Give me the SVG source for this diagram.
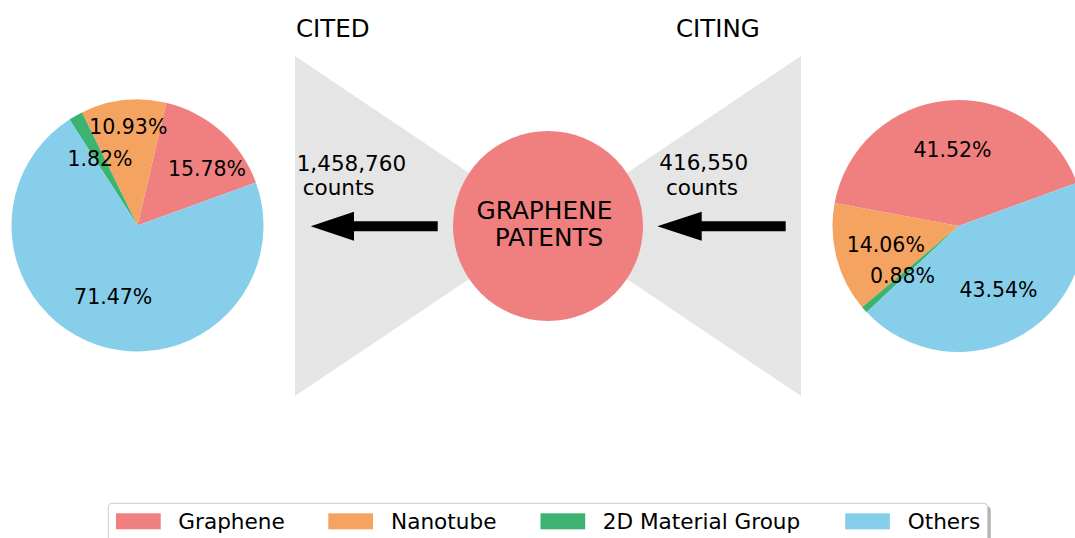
<svg xmlns="http://www.w3.org/2000/svg" width="1075" height="538" viewBox="0 0 1075 538">
<style>
text{font-family:"DejaVu Sans","Liberation Sans",sans-serif;fill:#000}
.pl{font-size:20.5px;text-anchor:middle}
.cnt{font-size:21.5px}
.ttl{font-size:24.5px}
.lg{font-size:21.6px}
.gr{fill:#F08080}.nt{fill:#F4A460}.md{fill:#3CB371}.ot{fill:#87CEEB}
.fan{fill:#e5e5e5}
.arr{fill:#000}
</style>
<rect width="1075" height="538" fill="#fff"/>
<g id="fans">
<polygon class="fan" points="295,56 295,396 548,226"/>
<polygon class="fan" points="801,56 801,396 548,226"/>
</g>
<g id="titles">
<text class="ttl" x="296" y="37.3">CITED</text>
<text class="ttl" x="676" y="37.3">CITING</text>
</g>
<g id="connectors">
<polygon class="arr" points="310.7,226.2 354,211.7 354,221.2 437.7,221.2 437.7,231.2 354,231.2 354,240.7"/>
<polygon class="arr" points="657.3,226.2 701.7,211.7 701.7,221.2 785.7,221.2 785.7,231.2 701.7,231.2 701.7,240.7"/>
</g>
<g id="cited-count">
<text class="cnt" x="296.7" y="170.7">1,458,760</text>
<text class="cnt" x="302.7" y="195">counts</text>
</g>
<g id="citing-count">
<text class="cnt" x="659.3" y="169.5">416,550</text>
<text class="cnt" x="666" y="194.5">counts</text>
</g>
<g id="graphene-patents">
<circle class="gr" cx="548" cy="226" r="95"/>
<text x="544.4" y="219.1" style="font-size:24.8px;text-anchor:middle">GRAPHENE</text>
<text x="549" y="246.4" style="font-size:24.8px;text-anchor:middle">PATENTS</text>
</g>
<g id="cited-pie">
<path class="gr" d="M137.5,225.5 L255.90,182.41 A126,126 0 0 0 166.25,102.83 Z"/>
<path class="nt" d="M137.5,225.5 L166.25,102.83 A126,126 0 0 0 81.96,112.40 Z"/>
<path class="md" d="M137.5,225.5 L81.96,112.40 A126,126 0 0 0 69.42,119.48 Z"/>
<path class="ot" d="M137.5,225.5 L69.42,119.48 A126,126 0 1 0 255.90,182.41 Z"/>
<text class="pl" x="128.3" y="134.3">10.93%</text>
<text class="pl" x="100" y="166">1.82%</text>
<text class="pl" x="207" y="175.7">15.78%</text>
<text class="pl" x="113.2" y="304">71.47%</text>
</g>
<g id="citing-pie">
<path class="gr" d="M958.5,226 L1076.90,182.91 A126,126 0 0 0 834.62,202.98 Z"/>
<path class="nt" d="M958.5,226 L834.62,202.98 A126,126 0 0 0 862.10,307.14 Z"/>
<path class="md" d="M958.5,226 L862.10,307.14 A126,126 0 0 0 866.74,312.35 Z"/>
<path class="ot" d="M958.5,226 L866.74,312.35 A126,126 0 0 0 1076.90,182.91 Z"/>
<text class="pl" x="952.5" y="157">41.52%</text>
<text class="pl" x="885.8" y="252.3">14.06%</text>
<text class="pl" x="902.5" y="282.7">0.88%</text>
<text class="pl" x="998.5" y="296.7">43.54%</text>
</g>
<g id="legend">
<rect x="111.3" y="506.3" width="879.4" height="50" rx="4" fill="#b0b0b0"/>
<rect x="108.3" y="503.3" width="879.4" height="50" rx="4" fill="#fff" stroke="#cccccc" stroke-width="1"/>
<rect class="gr" x="116" y="513.3" width="44.7" height="16"/>
<text class="lg" x="178.3" y="529.3">Graphene</text>
<rect class="nt" x="328.3" y="513.3" width="44.7" height="16"/>
<text class="lg" x="391" y="529.3">Nanotube</text>
<rect class="md" x="540.5" y="513.3" width="44.7" height="16"/>
<text class="lg" x="602.7" y="529.3">2D Material Group</text>
<rect class="ot" x="845.2" y="513.3" width="44.7" height="16"/>
<text class="lg" x="907.7" y="529.3">Others</text>
</g>
</svg>
